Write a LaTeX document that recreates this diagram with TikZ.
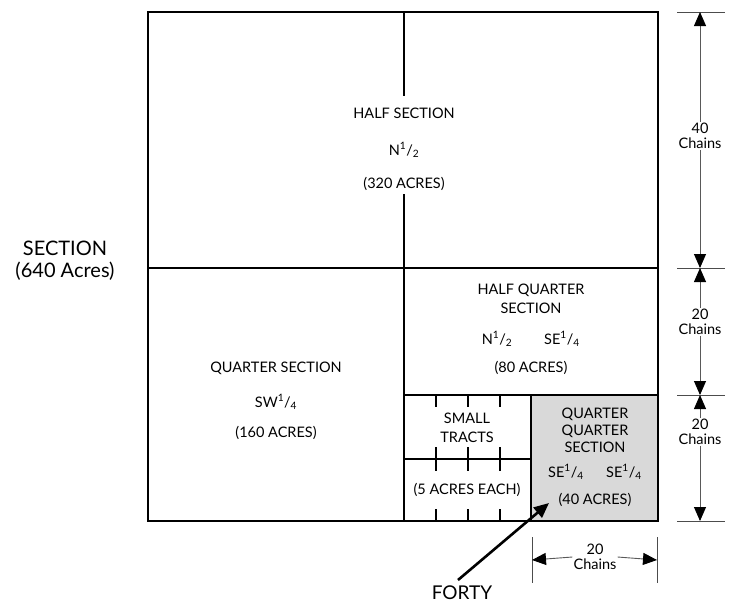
\documentclass[tikz,border=0pt]{standalone}
\usepackage{fontspec}
\setmainfont{Lato}
\usetikzlibrary{arrows.meta}
\begin{document}
\begin{tikzpicture}[x=1pt,y=-1pt,
  wall/.style={line width=2.8pt,line cap=rect},
  tick/.style={line width=1.6pt},
  lbl/.style={font=\fontsize{14.5}{19}\selectfont,inner sep=1pt,align=center},
  dimtxt/.style={font=\fontsize{14.5}{15.5}\selectfont,inner sep=1pt,align=center,fill=white},
  dimline/.style={draw=black!65,line width=0.9pt,-{Triangle[width=12pt,length=14pt,color=black]}},
  dimtick/.style={draw=black!70,line width=0.9pt}]
\useasboundingbox (0,0) rectangle (736,603);
% shaded forty
\fill[black!15] (531,395) rectangle (658,521);
% main lines
\draw[wall] (148,12) rectangle (658,521);
\draw[wall] (148,268) -- (658,268);
\draw[wall] (404,268) -- (404,521);
\draw[wall] (404,395) -- (658,395);
\draw[wall] (531,395) -- (531,521);
\draw[wall] (404,459) -- (531,459);
\draw[wall] (404,12) -- (404,95);
\draw[wall] (404,195) -- (404,268);
% small tract ticks
\foreach \x in {436,468,500}{
  \draw[tick] (\x,395) -- (\x,407);
  \draw[tick] (\x,447) -- (\x,471);
  \draw[tick] (\x,509) -- (\x,521);
}
% labels
\node[lbl] (half) at (404,113) {HALF SECTION};
\node[lbl] (halfn) at (404,150) {N\textsuperscript{1}/\textsubscript{2}};
\node[lbl] (halfa) at (404,184) {(320 ACRES)};
\node[font=\fontsize{20}{22}\selectfont,align=center,inner sep=1pt] (sec) at (65,261) {SECTION\\(640 Acres)};
\node[lbl] (hq) at (531,299) {HALF QUARTER\\SECTION};
\node[lbl] (hqn) at (497,339) {N\textsuperscript{1}/\textsubscript{2}};
\node[lbl] (hqs) at (562,339) {SE\textsuperscript{1}/\textsubscript{4}};
\node[lbl] (hqa) at (531,368) {(80 ACRES)};
\node[lbl] (qs) at (276,368) {QUARTER SECTION};
\node[lbl] (qsw) at (276,402) {SW\textsuperscript{1}/\textsubscript{4}};
\node[lbl] (qsa) at (276,433) {(160 ACRES)};
\node[lbl] (st) at (467,428) {SMALL\\TRACTS};
\node[lbl,fill=white,inner xsep=2pt] (ste) at (467,490) {(5 ACRES EACH)};
\node[lbl,font=\fontsize{14.5}{17}\selectfont] (qq) at (595,430) {QUARTER\\QUARTER\\SECTION};
\node[lbl] (qq1) at (566,472) {SE\textsuperscript{1}/\textsubscript{4}};
\node[lbl] (qq2) at (624,472) {SE\textsuperscript{1}/\textsubscript{4}};
\node[lbl] (qqa) at (595,500) {(40 ACRES)};
% forty arrow
\node[font=\fontsize{19}{21}\selectfont,inner sep=1pt] (forty) at (462,593) {FORTY};
\coordinate (fs) at (458,580);
\coordinate (fe) at (549,503);
\draw[line width=2.6pt,-{Triangle[width=13pt,length=15pt]}] (fs) -- (fe);
% right dimensions
\foreach \y/\n in {12/ra,268/rb,395/rc,521/rd}{
  \coordinate (\n) at (700,\y);
  \draw[dimtick] (677,\y) -- (725,\y);
}
\node[dimtxt] (d1) at (700,136) {40\\Chains};
\node[dimtxt] (d2) at (700,322) {20\\Chains};
\node[dimtxt] (d3) at (700,432) {20\\Chains};
\draw[dimline] (d1.north) -- (ra);
\draw[dimline] (d1.south) -- (rb);
\draw[dimline] (d2.north) -- (rb);
\draw[dimline] (d2.south) -- (rc);
\draw[dimline] (d3.north) -- (rc);
\draw[dimline] (d3.south) -- (rd);
% bottom dimension
\coordinate (ba) at (532,560);
\coordinate (bb) at (657,560);
\draw[dimtick] (532,537) -- (532,583);
\draw[dimtick] (657,537) -- (657,583);
\node[dimtxt] (d4) at (595,557) {20\\Chains};
\draw[dimline] (d4.west) -- (ba);
\draw[dimline] (d4.east) -- (bb);
\end{tikzpicture}
\end{document}
